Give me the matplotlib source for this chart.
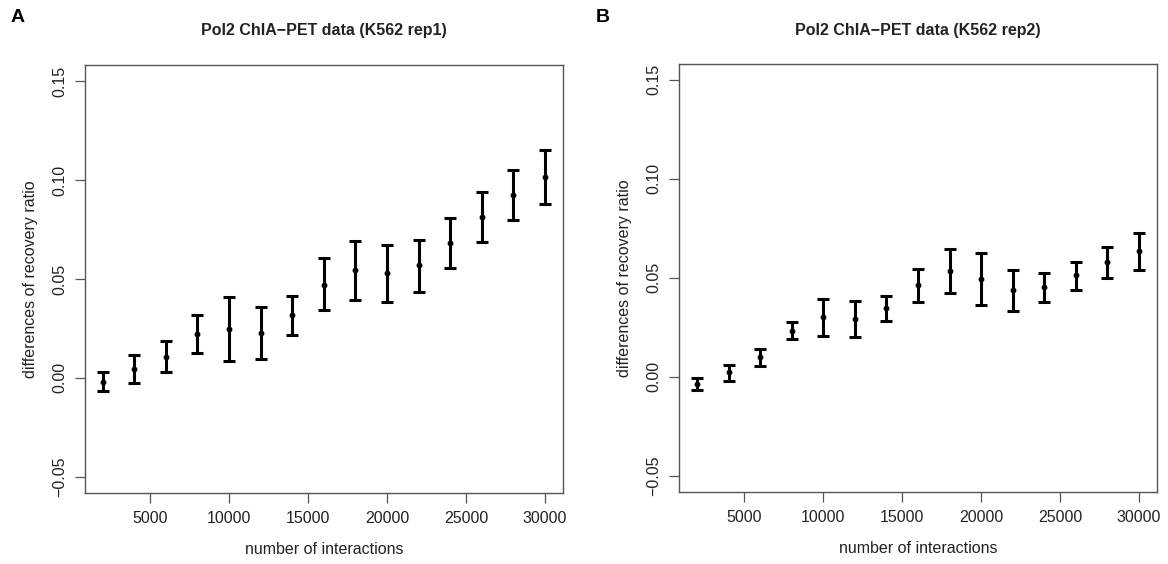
import matplotlib
matplotlib.use("Agg")
import matplotlib.pyplot as plt
import numpy as np

plt.rcParams['font.family'] = ['Liberation Sans', 'DejaVu Sans']

# number of interactions
interactions = [2000, 4000, 6000, 8000, 10000, 12000, 14000, 16000,
                18000, 20000, 22000, 24000, 26000, 28000, 30000]

# rep1: mean, lower, upper
rep1_mean = [-0.0019, 0.0046, 0.0108, 0.0224, 0.0248, 0.0228, 0.0319, 0.0471,
             0.0544, 0.0528, 0.0569, 0.0684, 0.0815, 0.0927, 0.1014]
rep1_low = [-0.0066, -0.0024, 0.0030, 0.0125, 0.0088, 0.0096, 0.0219, 0.0343,
            0.0395, 0.0383, 0.0436, 0.0555, 0.0689, 0.0800, 0.0878]
rep1_high = [0.0029, 0.0116, 0.0186, 0.0319, 0.0407, 0.0358, 0.0415, 0.0606,
             0.0692, 0.0674, 0.0699, 0.0810, 0.0940, 0.1053, 0.1153]

# rep2: mean, lower, upper
rep2_mean = [-0.0037, 0.0022, 0.0101, 0.0234, 0.0300, 0.0293, 0.0349, 0.0463,
             0.0536, 0.0494, 0.0438, 0.0452, 0.0512, 0.0581, 0.0637]
rep2_low = [-0.0066, -0.0019, 0.0056, 0.0190, 0.0207, 0.0202, 0.0280, 0.0379,
            0.0425, 0.0361, 0.0335, 0.0376, 0.0440, 0.0500, 0.0539]
rep2_high = [-0.0007, 0.0059, 0.0143, 0.0275, 0.0393, 0.0384, 0.0409, 0.0544,
             0.0647, 0.0627, 0.0539, 0.0524, 0.0581, 0.0654, 0.0728]

titles = ['Pol2 ChIA\u2212PET data (K562 rep1)', 'Pol2 ChIA\u2212PET data (K562 rep2)']
panel_labels = ['A', 'B']
yticks = [-0.05, 0.0, 0.05, 0.10, 0.15]
xticks = [5000, 10000, 15000, 20000, 25000, 30000]

W, H = 1168, 564
fig = plt.figure(figsize=(W / 100, H / 100), dpi=100)

boxes = [(85, 65.3, 562.6, 492.7), (679.3, 64, 1156.7, 491.7)]
label_pos = [(18, 17), (603, 17)]
frame_col = '#555555'
text_col = '#222222'

series = [(rep1_mean, rep1_low, rep1_high), (rep2_mean, rep2_low, rep2_high)]

for i, (m, lo, hi) in enumerate(series):
    x0, y0, x1, y1 = boxes[i]
    ax = fig.add_axes([x0 / W, 1 - y1 / H, (x1 - x0) / W, (y1 - y0) / H])
    m = np.array(m)
    err = [m - np.array(lo), np.array(hi) - m]
    ax.errorbar(interactions, m, yerr=err, fmt='o', color='black', ms=3.2,
                elinewidth=2.2, capsize=4.5, capthick=2.2)
    ax.set_xlim(880, 31120)
    ax.set_ylim(-0.058, 0.158)
    ax.set_xticks(xticks)
    ax.set_xticklabels([str(v) for v in xticks])
    ax.set_yticks(yticks)
    ax.set_yticklabels(['\u22120.05', '0.00', '0.05', '0.10', '0.15'])
    for t in ax.get_yticklabels():
        t.set_rotation(90)
        t.set_va('center')
    for s in ax.spines.values():
        s.set_color(frame_col)
        s.set_linewidth(1.0)
    ax.tick_params(length=7, width=0.9, color=frame_col, labelsize=11.5,
                   labelcolor=text_col, pad=6)
    ax.set_xlabel('number of interactions', fontsize=11.5, color=text_col, labelpad=12)
    ax.set_ylabel('differences of recovery ratio', fontsize=11.5, color=text_col, labelpad=10)

    cx = (x0 + x1) / 2 / W
    fig.text(cx, 1 - 31 / H, titles[i], ha='center', va='center',
             fontsize=11.5, fontweight='bold', color=text_col)
    lx, ly = label_pos[i]
    fig.text(lx / W, 1 - ly / H, panel_labels[i], ha='center', va='center',
             fontsize=14, fontweight='bold', color='black')

fig.savefig('out.png', dpi=100)
